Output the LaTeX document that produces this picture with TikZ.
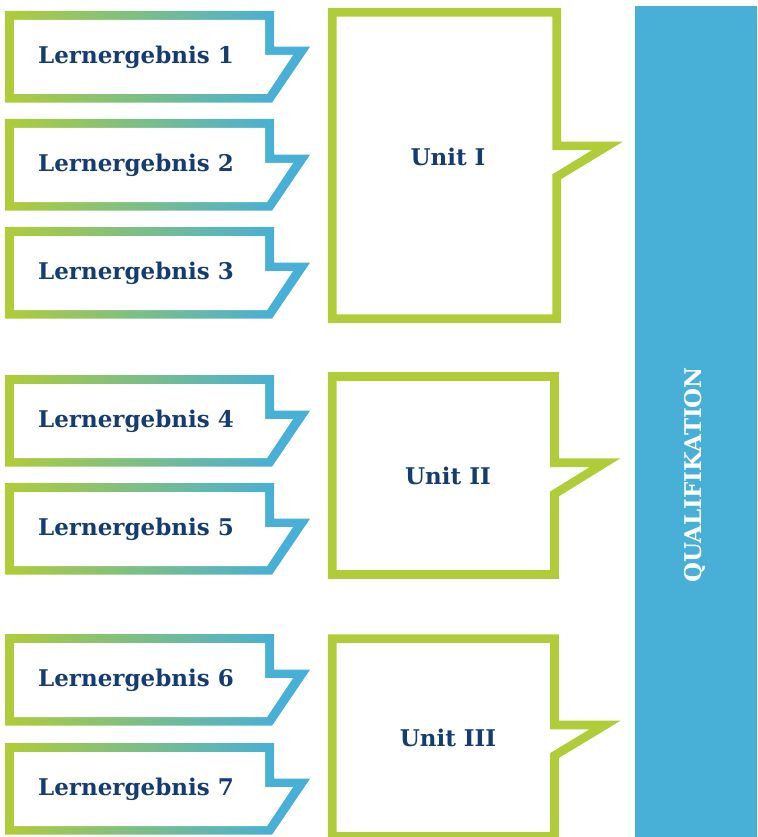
\documentclass[tikz,border=0pt]{standalone}
\usepackage{fontspec}
\setmainfont{DejaVu Serif}
\usepackage{tikz}
\usetikzlibrary{calc}

\definecolor{lgreen}{RGB}{176,204,56}
\definecolor{lblue}{RGB}{72,176,214}
\definecolor{navy}{RGB}{20,60,112}

\begin{document}
\begin{tikzpicture}[x=1pt, y=-1pt, line join=miter,
    letext/.style={font=\bfseries\fontsize{23}{27}\selectfont, text=navy, anchor=base, inner sep=0pt},
    unitline/.style={draw=lgreen, line width=8.7pt}]
        \useasboundingbox (0,0) rectangle (757,837);
        \clip (0,0) rectangle (757,837);

        % Qualifikation
        \fill[lblue] (635,6) rectangle (757,837);
        \node[letext, text=white, rotate=90] (quali) at (701.7,475) {QUALIFIKATION};

        % Lernergebnisse
        \foreach \t/\n in {11/1, 119/2, 227/3, 375/4, 483/5, 634/6, 743/7} {
            \begin{scope}[shift={(5,\t)}]
                \begin{scope}
                    \clip (0,0) -- (269,0) -- (269,35.7) -- (305,35.7) -- (267,91.7) -- (0,91.7) -- cycle;
                    \shade[left color=lgreen, right color=lblue] (0,0) rectangle (269,91.7);
                    \fill[lblue] (268.5,0) rectangle (305,91.7);
                \end{scope}
                \fill[white] (9,9) -- (260,9) -- (260,44) -- (288,44) -- (262,83) -- (9,83) -- cycle;
                \node[letext] (le\n) at (131,52.3) {Lernergebnis \n};
            \end{scope}
        }

        % Units
        \draw[unitline] (332.3,12.3) -- (556.7,12.3) -- (556.7,145.9) -- (607.5,145.9) -- (556.7,176.7) -- (556.7,318.7) -- (332.3,318.7) -- cycle;
        \node[letext] (unit1) at (448,166) {Unit I};

        \draw[unitline] (332.3,376.4) -- (554.4,376.4) -- (554.4,462.7) -- (605,462.7) -- (554.4,494) -- (554.4,574.4) -- (332.3,574.4) -- cycle;
        \node[letext] (unit2) at (448,484) {Unit II};

        \draw[unitline] (332.3,638.6) -- (554.4,638.6) -- (554.4,725) -- (605,725) -- (554.4,755.6) -- (554.4,836.5) -- (332.3,836.5) -- cycle;
        \node[letext] (unit3) at (448,746.7) {Unit III};
    \end{tikzpicture}
\end{document}
